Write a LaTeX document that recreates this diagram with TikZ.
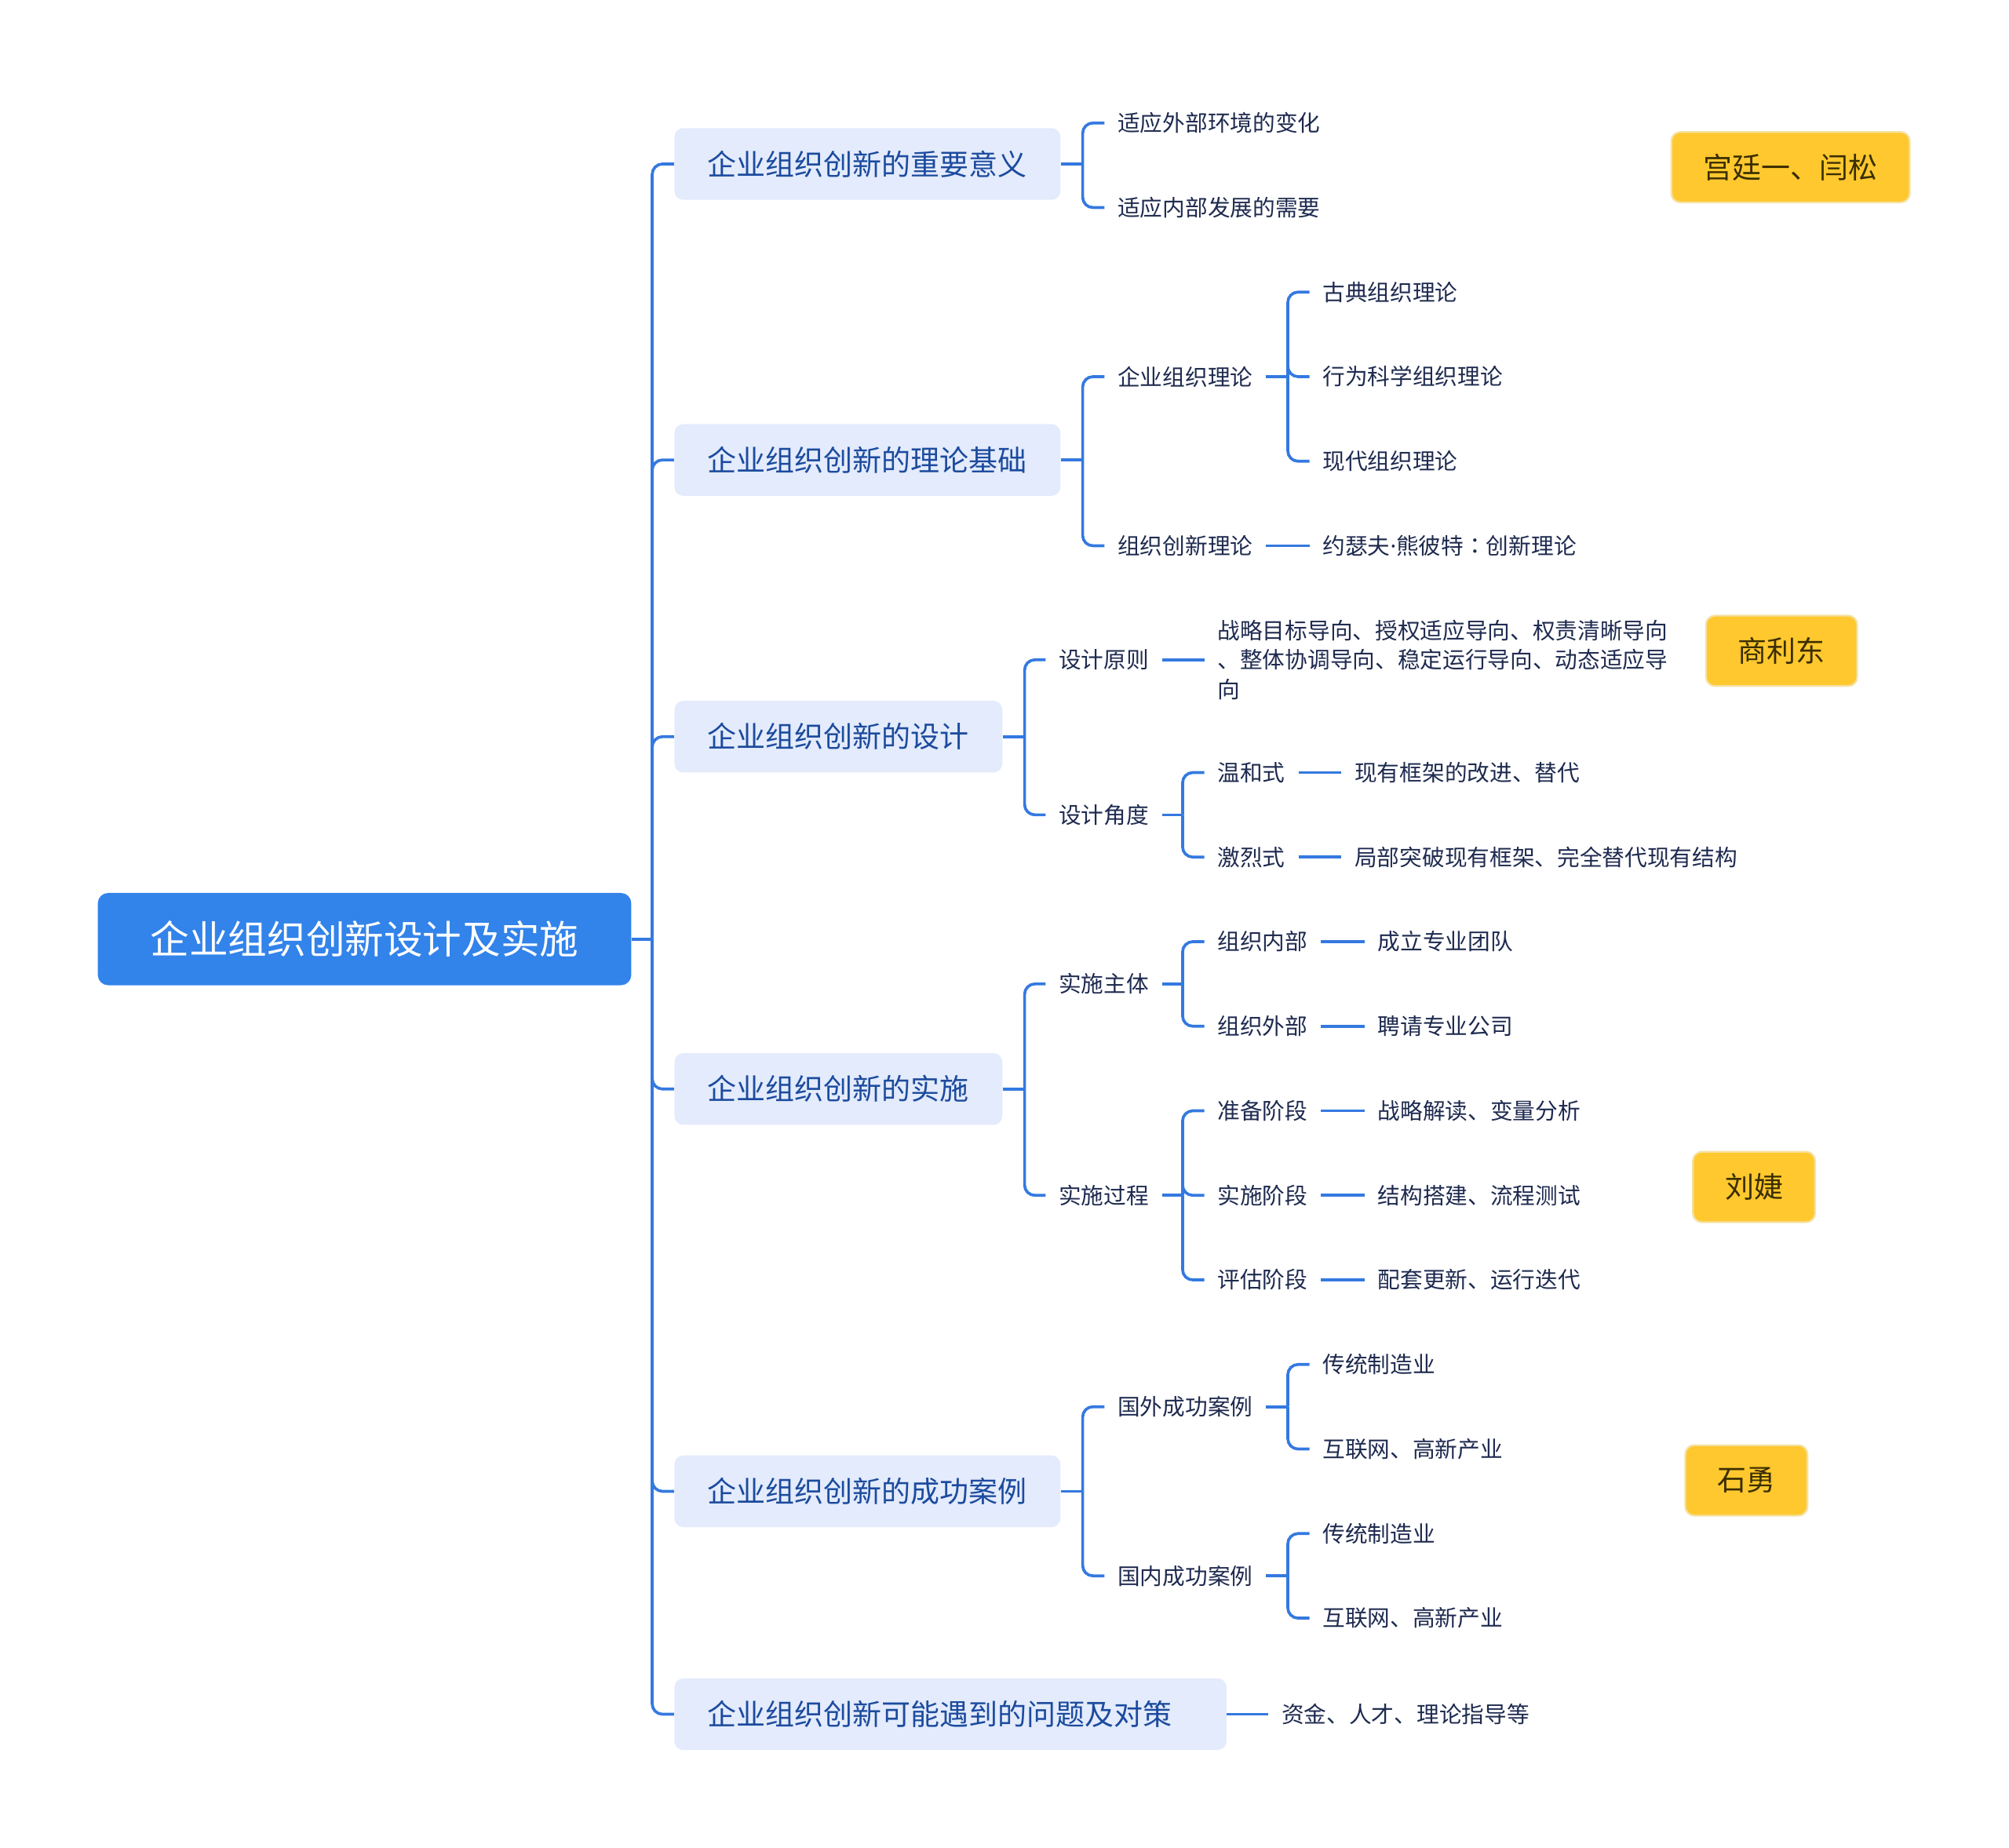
\documentclass[tikz,border=0pt]{standalone}
\usepackage{fontspec}
\setmainfont{Noto Sans CJK SC}
\newfontfamily\latinfont{Noto Sans}
\newfontfamily\tcfont{Noto Sans CJK TC}
\definecolor{linec}{HTML}{3479E0}
\definecolor{rootfill}{HTML}{3283EA}
\definecolor{lonefill}{HTML}{E3EBFC}
\definecolor{lonetext}{HTML}{1C4B9E}
\definecolor{leaftext}{HTML}{1E2A4F}
\definecolor{tagfill}{HTML}{FFC82E}
\definecolor{tagborder}{HTML}{F4E2A2}
\definecolor{tagtext}{HTML}{3A2E00}
\begin{document}
\begin{tikzpicture}[x=0.02cm,y=-0.02cm,
  rootbox/.style={rectangle, rounded corners=0.16cm, fill=rootfill, text=white, font=\fontsize{17.3}{20}\selectfont, inner xsep=0.82cm, inner ysep=0pt, minimum height=1.44cm, anchor=west},
  lone/.style={rectangle, rounded corners=0.14cm, fill=lonefill, text=lonetext, font=\fontsize{12.9}{15}\selectfont, inner xsep=0.52cm, inner ysep=0pt, minimum height=1.12cm, anchor=west},
  leaf/.style={text=leaftext, font=\fontsize{10}{13}\selectfont, inner xsep=0.2cm, inner ysep=0.04cm, anchor=west},
  tag/.style={rectangle, rounded corners=0.14cm, fill=tagfill, draw=tagborder, line width=0.8pt, text=tagtext, font=\fontsize{12.9}{15}\selectfont, inner xsep=0.5cm, inner ysep=0pt, minimum height=1.1cm},
  conn/.style={draw=linec, line width=0.045cm},
  br/.style={conn, rounded corners=0.16cm}]
\useasboundingbox (0,0) rectangle (1568,1442);

% root
\node[rootbox] (root) at (76,733) {企业组织创新设计及实施};

% level 1
\node[lone] (a1) at (526,128) {企业组织创新的重要意义};
\node[lone] (a2) at (526,359) {企业组织创新的理论基础};
\node[lone] (a3) at (526,575) {企业组织创新的设计};
\node[lone] (a4) at (526,850) {企业组织创新的实施};
\node[lone] (a5) at (526,1164) {企业组织创新的成功案例};
\node[lone, text width=7.58cm, align=left] (a6) at (526,1338) {企业组织创新可能遇到的问题及对策};

% trunk
\coordinate (j0) at ([xshift=0.32cm]root.east);
\draw[conn] (root.east) -- (j0);
\foreach \n in {a1,a2,a3,a4,a5,a6} \draw[br] (j0) |- (\n.west);

% branch 1
\node[leaf] (b1a) at (862,96) {适应外部环境的变化};
\node[leaf] (b1b) at (862,162) {适应内部发展的需要};
\coordinate (j1) at ([xshift=0.34cm]a1.east);
\draw[conn] (a1.east) -- (j1);
\draw[br] (j1) |- (b1a.west);
\draw[br] (j1) |- (b1b.west);

% branch 2
\node[leaf] (b2a) at (862,294) {企业组织理论};
\node[leaf] (b2b) at (862,426) {组织创新理论};
\coordinate (j2) at ([xshift=0.34cm]a2.east);
\draw[conn] (a2.east) -- (j2);
\draw[br] (j2) |- (b2a.west);
\draw[br] (j2) |- (b2b.west);
\node[leaf] (b2a1) at (1022,228) {古典组织理论};
\node[leaf] (b2a2) at (1022,294) {行为科学组织理论};
\node[leaf] (b2a3) at (1022,360) {现代组织理论};
\coordinate (j2a) at ([xshift=0.34cm]b2a.east);
\draw[conn] (b2a.east) -- (j2a);
\draw[br] (j2a) |- (b2a1.west);
\draw[br] (j2a) |- (b2a2.west);
\draw[br] (j2a) |- (b2a3.west);
\node[leaf] (b2b1) at (1022,426) {约瑟夫{\latinfont ·}熊彼特{\tcfont ：}创新理论};
\draw[conn] (b2b.east) -- (b2b1.west);

% branch 3
\node[leaf] (b3a) at (816,515) {设计原则};
\node[leaf] (b3b) at (816,636) {设计角度};
\coordinate (j3) at ([xshift=0.34cm]a3.east);
\draw[conn] (a3.east) -- (j3);
\draw[br] (j3) |- (b3a.west);
\draw[br] (j3) |- (b3b.west);
\node[leaf, align=left] (b3a1) at (940,515) {战略目标导向、授权适应导向、权责清晰导向\\、整体协调导向、稳定运行导向、动态适应导\\向};
\draw[conn] (b3a.east) -- (b3a1.west);
\node[leaf] (b3b1) at (940,603) {温和式};
\node[leaf] (b3b2) at (940,669) {激烈式};
\coordinate (j3b) at ([xshift=0.32cm]b3b.east);
\draw[conn] (b3b.east) -- (j3b);
\draw[br] (j3b) |- (b3b1.west);
\draw[br] (j3b) |- (b3b2.west);
\node[leaf] (b3b1x) at (1047,603) {现有框架的改进、替代};
\node[leaf] (b3b2x) at (1047,669) {局部突破现有框架、完全替代现有结构};
\draw[conn] (b3b1.east) -- (b3b1x.west);
\draw[conn] (b3b2.east) -- (b3b2x.west);

% branch 4
\node[leaf] (b4a) at (816,768) {实施主体};
\node[leaf] (b4b) at (816,933) {实施过程};
\coordinate (j4) at ([xshift=0.34cm]a4.east);
\draw[conn] (a4.east) -- (j4);
\draw[br] (j4) |- (b4a.west);
\draw[br] (j4) |- (b4b.west);
\node[leaf] (b4a1) at (940,735) {组织内部};
\node[leaf] (b4a2) at (940,801) {组织外部};
\coordinate (j4a) at ([xshift=0.32cm]b4a.east);
\draw[conn] (b4a.east) -- (j4a);
\draw[br] (j4a) |- (b4a1.west);
\draw[br] (j4a) |- (b4a2.west);
\node[leaf] (b4a1x) at (1065,735) {成立专业团队};
\node[leaf] (b4a2x) at (1065,801) {聘请专业公司};
\draw[conn] (b4a1.east) -- (b4a1x.west);
\draw[conn] (b4a2.east) -- (b4a2x.west);
\node[leaf] (b4b1) at (940,867) {准备阶段};
\node[leaf] (b4b2) at (940,933) {实施阶段};
\node[leaf] (b4b3) at (940,999) {评估阶段};
\coordinate (j4b) at ([xshift=0.32cm]b4b.east);
\draw[conn] (b4b.east) -- (j4b);
\draw[br] (j4b) |- (b4b1.west);
\draw[br] (j4b) |- (b4b2.west);
\draw[br] (j4b) |- (b4b3.west);
\node[leaf] (b4b1x) at (1065,867) {战略解读、变量分析};
\node[leaf] (b4b2x) at (1065,933) {结构搭建、流程测试};
\node[leaf] (b4b3x) at (1065,999) {配套更新、运行迭代};
\draw[conn] (b4b1.east) -- (b4b1x.west);
\draw[conn] (b4b2.east) -- (b4b2x.west);
\draw[conn] (b4b3.east) -- (b4b3x.west);

% branch 5
\node[leaf] (b5a) at (862,1098) {国外成功案例};
\node[leaf] (b5b) at (862,1230) {国内成功案例};
\coordinate (j5) at ([xshift=0.34cm]a5.east);
\draw[conn] (a5.east) -- (j5);
\draw[br] (j5) |- (b5a.west);
\draw[br] (j5) |- (b5b.west);
\node[leaf] (b5a1) at (1022,1065) {传统制造业};
\node[leaf] (b5a2) at (1022,1131) {互联网、高新产业};
\coordinate (j5a) at ([xshift=0.34cm]b5a.east);
\draw[conn] (b5a.east) -- (j5a);
\draw[br] (j5a) |- (b5a1.west);
\draw[br] (j5a) |- (b5a2.west);
\node[leaf] (b5b1) at (1022,1197) {传统制造业};
\node[leaf] (b5b2) at (1022,1263) {互联网、高新产业};
\coordinate (j5b) at ([xshift=0.34cm]b5b.east);
\draw[conn] (b5b.east) -- (j5b);
\draw[br] (j5b) |- (b5b1.west);
\draw[br] (j5b) |- (b5b2.west);

% branch 6
\node[leaf] (b6a) at (990,1338) {资金、人才、理论指导等};
\draw[conn] (a6.east) -- (b6a.west);

% tags
\node[tag] (t1) at (1397.5,130.5) {宫廷一、闫松};
\node[tag] (t2) at (1390.5,508) {商利东};
\node[tag] (t3) at (1369,926.5) {刘婕};
\node[tag] (t4) at (1363,1155.5) {石勇};
\end{tikzpicture}
\end{document}
